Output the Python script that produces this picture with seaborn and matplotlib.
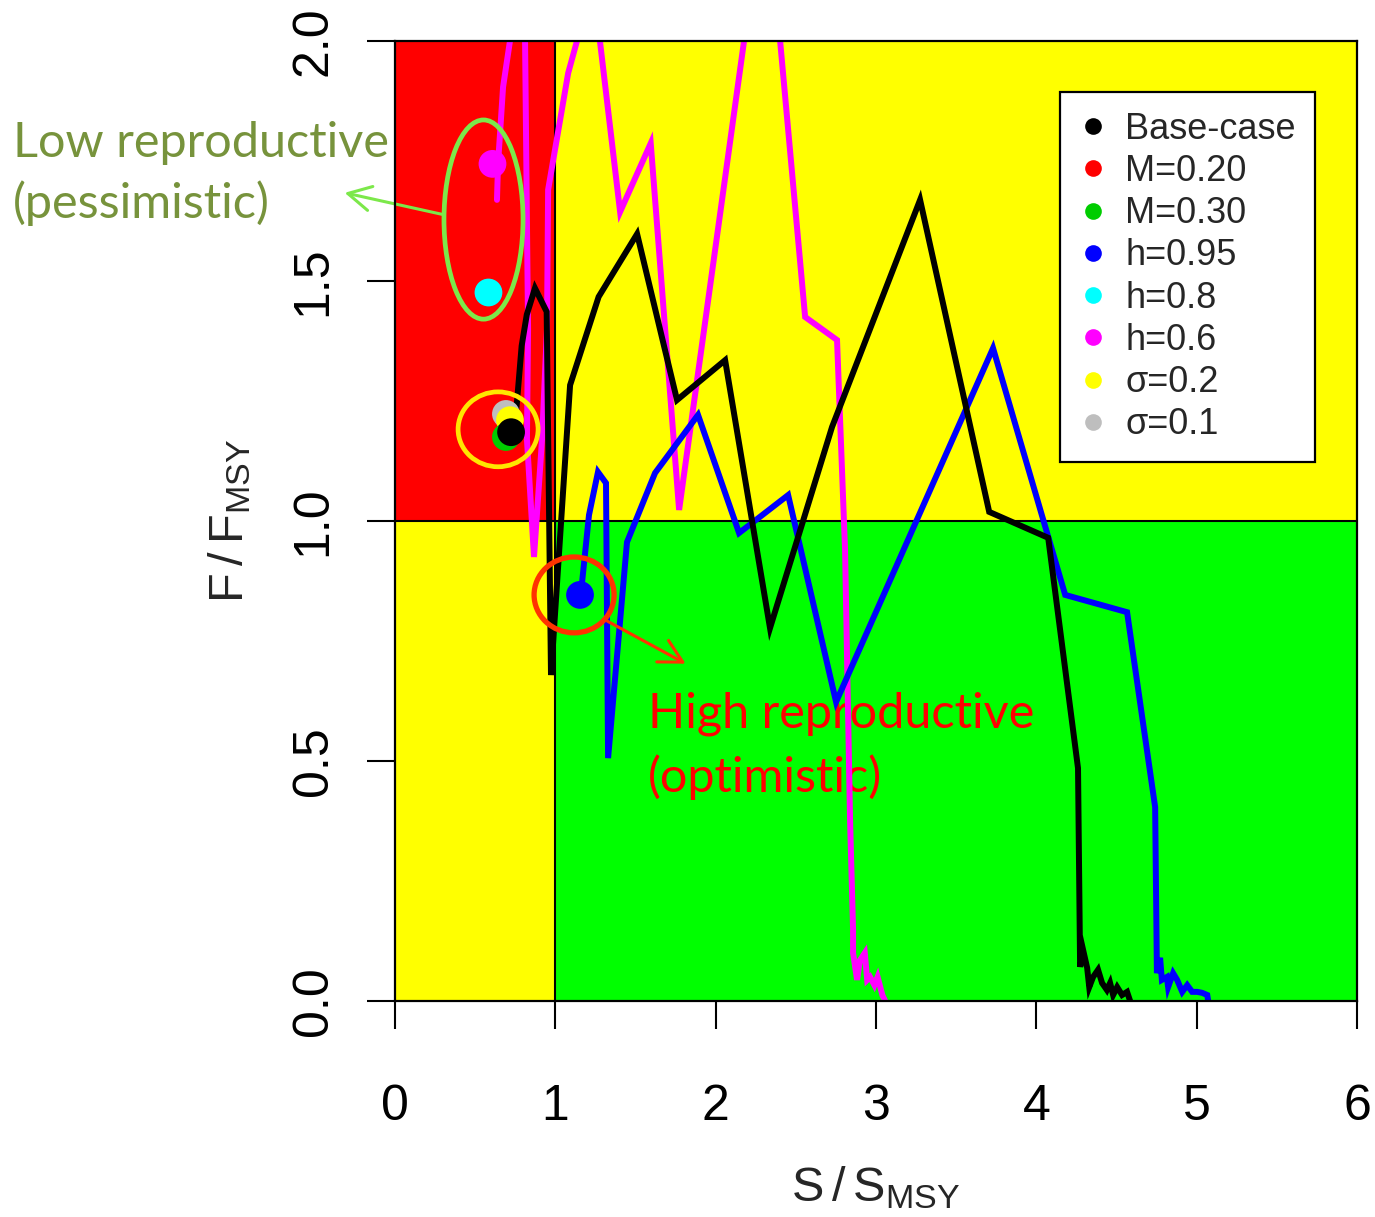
import numpy as np
import pandas as pd
import matplotlib
matplotlib.use("Agg")
import matplotlib.pyplot as plt
import seaborn as sns
from matplotlib.patches import Ellipse, Rectangle
from matplotlib.lines import Line2D

# ---------------- data ----------------
# Trajectories (S/SMSY, F/FMSY), listed from the first year (bottom right) to the last year
base_S = [4.585, 4.566, 4.535, 4.504, 4.479, 4.46, 4.44, 4.41, 4.385, 4.354, 4.33, 4.317, 4.292, 4.273,
          4.26, 4.074, 3.706, 3.275, 2.726, 2.339, 2.059, 1.759, 1.51, 1.27, 1.092, 0.973, 0.946,
          0.873, 0.822, 0.79, 0.755, 0.72]
base_F = [0.0, 0.019, 0.0125, 0.029, 0.0125, 0.0375, 0.023, 0.0375, 0.065, 0.05, 0.029, 0.069, 0.106, 0.071,
          0.485, 0.965, 1.019, 1.669, 1.196, 0.777, 1.335, 1.252, 1.598, 1.467, 1.283, 0.679, 1.436,
          1.485, 1.43, 1.365, 1.225, 1.185]

h095_S = [5.072, 5.066, 5.034, 5.003, 4.972, 4.941, 4.91, 4.878, 4.853, 4.822, 4.814, 4.783, 4.772, 4.752,
          4.741, 4.566, 4.18, 3.73, 2.751, 2.452, 2.146, 1.89, 1.622, 1.447, 1.329, 1.316, 1.266, 1.21, 1.16]
h095_F = [0.0, 0.0125, 0.017, 0.019, 0.019, 0.033, 0.019, 0.044, 0.058, 0.029, 0.05, 0.044, 0.09, 0.058,
          0.404, 0.81, 0.846, 1.36, 0.623, 1.054, 0.975, 1.221, 1.1, 0.956, 0.506, 1.079, 1.102, 1.0125, 0.85]

h06_S = [3.057, 3.04, 3.01, 2.99, 2.963, 2.945, 2.93, 2.90, 2.882, 2.857, 2.857, 2.838, 2.807, 2.757,
         2.558, 2.313, 1.772, 1.595, 1.404, 1.235, 1.08, 0.955, 0.948, 0.917, 0.905, 0.867, 0.823,
         0.83, 0.805, 0.674, 0.643, 0.636]
h06_F = [0.0, 0.012, 0.05, 0.033, 0.05, 0.044, 0.10, 0.085, 0.044, 0.10, 0.148, 0.38, 0.94, 1.377,
         1.425, 2.328, 1.023, 1.787, 1.644, 2.122, 1.933, 1.69, 1.40, 1.17, 1.11, 0.925, 1.17,
         1.40, 2.196, 1.904, 1.746, 1.669]

# Final-year position of each scenario
scenarios = ["Base-case", "M=0.20", "M=0.30", "h=0.95", "h=0.8", "h=0.6", "σ=0.2", "σ=0.1"]
final_S = [0.724, 0.71, 0.692, 1.154, 0.583, 0.608, 0.717, 0.692]
final_F = [1.185, 1.20, 1.175, 0.846, 1.476, 1.744, 1.21, 1.223]
scen_colors = ["#000000", "#FF0000", "#00CD00", "#0000FF", "#00FFFF", "#FF00FF", "#FFFF00", "#BEBEBE"]

x_ticks = [0, 1, 2, 3, 4, 5, 6]
y_ticks = [0.0, 0.5, 1.0, 1.5, 2.0]
y_tick_labels = ["0.0", "0.5", "1.0", "1.5", "2.0"]

# ---------------- styling ----------------
sns.set_style("ticks")
plt.rcParams["font.family"] = ["Liberation Sans", "DejaVu Sans"]
plt.rcParams["mathtext.default"] = "regular"

fig = plt.figure(figsize=(13.75, 12.17), dpi=100)
ax = fig.add_axes([0.28727, 0.17749, 0.69964, 0.78883])
ax.set_xlim(0, 6)
ax.set_ylim(0, 2)

# Kobe quadrants
ax.add_patch(Rectangle((0, 1), 1, 1, facecolor="#FF0000", edgecolor="none", zorder=0))
ax.add_patch(Rectangle((1, 1), 5, 1, facecolor="#FFFF00", edgecolor="none", zorder=0))
ax.add_patch(Rectangle((0, 0), 1, 1, facecolor="#FFFF00", edgecolor="none", zorder=0))
ax.add_patch(Rectangle((1, 0), 5, 1, facecolor="#00FF00", edgecolor="none", zorder=0))
ax.axvline(1, color="black", lw=1.5, zorder=1)
ax.axhline(1, color="black", lw=1.5, zorder=1)

# trajectories
traj = pd.concat([
    pd.DataFrame({"S": base_S, "F": base_F, "scen": "Base-case"}),
    pd.DataFrame({"S": h095_S, "F": h095_F, "scen": "h=0.95"}),
    pd.DataFrame({"S": h06_S, "F": h06_F, "scen": "h=0.6"}),
], ignore_index=True)
pal = dict(zip(scenarios, scen_colors))
for name in ["h=0.6", "h=0.95", "Base-case"]:
    sns.lineplot(data=traj[traj.scen == name], x="S", y="F", color=pal[name], sort=False,
                 estimator=None, lw=4.3, ax=ax, legend=False, zorder=3,
                 solid_joinstyle="miter", solid_capstyle="round")

# final points (drawing order so that base case is on top)
draw_order = ["M=0.20", "h=0.95", "h=0.8", "h=0.6", "σ=0.1", "σ=0.2", "M=0.30", "Base-case"]
pts = pd.DataFrame({"S": final_S, "F": final_F, "scen": scenarios}).set_index("scen").loc[draw_order].reset_index()
sns.scatterplot(data=pts, x="S", y="F", hue="scen", palette=pal, s=400, edgecolor="none",
                linewidth=0, ax=ax, legend=False, zorder=5)

# annotations
ax.add_patch(Ellipse((0.552, 1.628), 0.493, 0.415, facecolor="none", edgecolor="#7CE84A", lw=3.4, zorder=6))
ax.add_patch(Ellipse((0.643, 1.191), 0.499, 0.156, facecolor="none", edgecolor="#FFE600", lw=3.4, zorder=6))
ax.add_patch(Ellipse((1.117, 0.846), 0.499, 0.158, facecolor="none", edgecolor="#FF3300", lw=3.8, zorder=6))
ax.annotate("", xy=(-0.331, 1.685), xytext=(0.312, 1.6375),
            arrowprops=dict(arrowstyle="->,head_length=0.75,head_width=0.4", color="#7CE84A", lw=2.2,
                            mutation_scale=22),
            annotation_clip=False, zorder=6)
ax.annotate("", xy=(1.828, 0.70), xytext=(1.31, 0.794),
            arrowprops=dict(arrowstyle="->,head_length=0.75,head_width=0.4", color="#FF3300", lw=2.2,
                            mutation_scale=22),
            annotation_clip=False, zorder=6)

ann_font = ["Lato", "DejaVu Sans"]
ax.text(-2.383, 1.758, "Low reproductive", color="#77933C", fontsize=35, family=ann_font,
        ha="left", va="baseline", clip_on=False)
ax.text(-2.383, 1.631, "(pessimistic)", color="#77933C", fontsize=35, family=ann_font,
        ha="left", va="baseline", clip_on=False)
ax.text(1.578, 0.569, "High reproductive", color="#FF0000", fontsize=35, family=ann_font,
        ha="left", va="baseline", zorder=2)
ax.text(1.578, 0.435, "(optimistic)", color="#FF0000", fontsize=35, family=ann_font,
        ha="left", va="baseline", zorder=2)

# legend
handles = [Line2D([0], [0], marker="o", color="none", markerfacecolor=c, markeredgecolor="none",
                  markersize=12) for c in scen_colors]
leg = ax.legend(handles, scenarios, loc="upper left", bbox_to_anchor=(0.6913, 0.9469),
                fontsize=26, frameon=True, fancybox=False, framealpha=1, edgecolor="black",
                borderpad=0.55, labelspacing=0.2, handlelength=0.7, handletextpad=0.55,
                borderaxespad=0)
leg.get_frame().set_linewidth(1.6)
leg.set_zorder(10)

# axes / ticks (R base-graphics look)
for sp in ax.spines.values():
    sp.set_color("black")
    sp.set_linewidth(1.6)
    sp.set_zorder(7)
ax.set_xticks(x_ticks)
ax.set_xticklabels([str(v) for v in x_ticks])
ax.set_yticks(y_ticks)
ax.set_yticklabels(y_tick_labels, rotation=90, va="center")
ax.tick_params(axis="both", direction="out", length=20, width=1.5, colors="black", labelsize=36)
ax.tick_params(axis="x", pad=40)
ax.tick_params(axis="y", pad=22)
ax.set_xlabel("")
ax.set_ylabel("")
ax.text(0.5, -0.195, r"$S\,/\,S_{MSY}$", transform=ax.transAxes, fontsize=35,
        ha="center", va="center")
ax.text(-0.172, 0.5, r"$F\,/\,F_{MSY}$", transform=ax.transAxes, fontsize=35,
        ha="center", va="center", rotation=90)

fig.savefig("out.png", dpi=100)
